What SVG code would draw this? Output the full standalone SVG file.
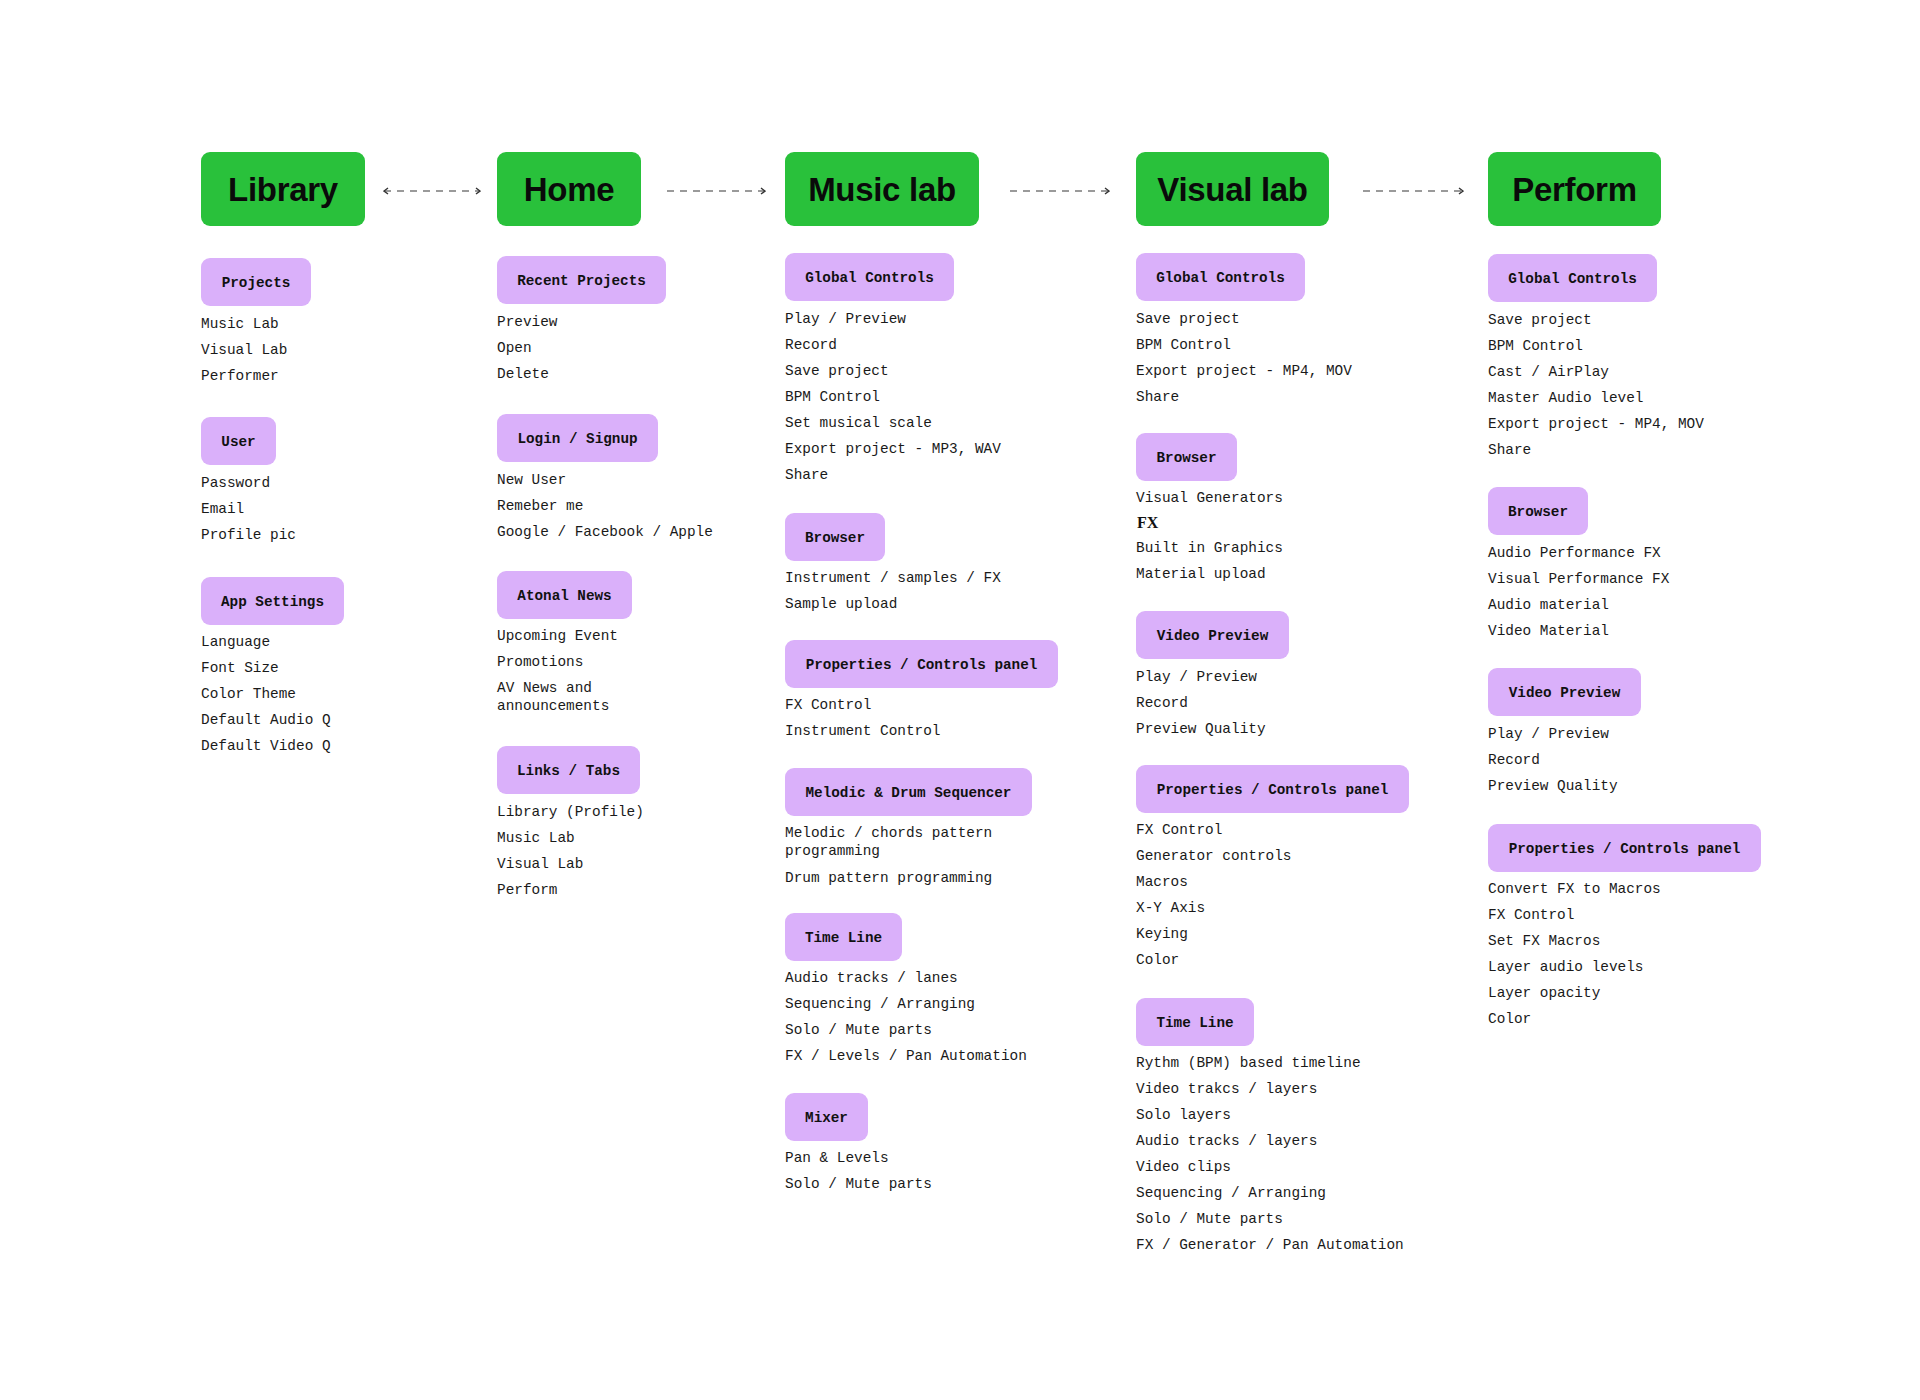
<svg xmlns="http://www.w3.org/2000/svg" width="1920" height="1400" viewBox="0 0 1920 1400">
<style>
.hdr{fill:#29c13b}
.hdrt{font-family:"Liberation Sans",Arial,sans-serif;font-weight:700;font-size:33px;fill:#0a0a0a;text-anchor:middle;letter-spacing:-0.3px}
.lbl{fill:#dab0fa}
.lblt{font-family:"Liberation Mono","DejaVu Sans Mono",monospace;font-weight:700;font-size:14.3px;fill:#111;text-anchor:middle}
.it{font-family:"Liberation Mono","DejaVu Sans Mono",monospace;font-size:14.4px;fill:#1a1a1a}
.fx{font-family:"Liberation Serif","Times New Roman",serif;font-weight:700;font-size:16px;fill:#111}
.con{stroke:#7a7a7a;stroke-width:1.6;stroke-dasharray:7 6;fill:none}
</style>
<defs>
<marker id="chev" viewBox="0 0 6 8" refX="5" refY="4" markerWidth="6" markerHeight="8" markerUnits="userSpaceOnUse" orient="auto-start-reverse">
<path d="M1,1 L5,4 L1,7" fill="none" stroke="#333" stroke-width="1.4"/>
</marker>
</defs>
<rect width="1920" height="1400" fill="#ffffff"/>

<g id="connectors">
<line class="con" x1="384" y1="191" x2="480" y2="191" marker-start="url(#chev)" marker-end="url(#chev)"/>
<line class="con" x1="667" y1="191" x2="765" y2="191" marker-end="url(#chev)"/>
<line class="con" x1="1010" y1="191" x2="1109" y2="191" marker-end="url(#chev)"/>
<line class="con" x1="1363" y1="191" x2="1463" y2="191" marker-end="url(#chev)"/>
</g>

<!-- Column 1: Library -->
<g id="library">
<rect class="hdr" x="201" y="152" width="164" height="74" rx="9"/>
<text class="hdrt" x="283" y="201">Library</text>
</g>
<g id="lib-projects">
<rect class="lbl" x="201" y="258" width="110" height="48" rx="9"/>
<text class="lblt" x="256" y="287">Projects</text>
<text class="it" x="201" y="328">Music Lab</text>
<text class="it" x="201" y="354">Visual Lab</text>
<text class="it" x="201" y="380">Performer</text>
</g>
<g id="lib-user">
<rect class="lbl" x="201" y="417" width="75" height="48" rx="9"/>
<text class="lblt" x="238.5" y="446">User</text>
<text class="it" x="201" y="487">Password</text>
<text class="it" x="201" y="513">Email</text>
<text class="it" x="201" y="539">Profile pic</text>
</g>
<g id="lib-appsettings">
<rect class="lbl" x="201" y="577" width="143" height="48" rx="9"/>
<text class="lblt" x="272.5" y="606">App Settings</text>
<text class="it" x="201" y="646">Language</text>
<text class="it" x="201" y="672">Font Size</text>
<text class="it" x="201" y="698">Color Theme</text>
<text class="it" x="201" y="724">Default Audio Q</text>
<text class="it" x="201" y="750">Default Video Q</text>
</g>

<!-- Column 2: Home -->
<g id="home">
<rect class="hdr" x="497" y="152" width="144" height="74" rx="9"/>
<text class="hdrt" x="569" y="201">Home</text>
</g>
<g id="home-recent">
<rect class="lbl" x="497" y="256" width="169" height="48" rx="9"/>
<text class="lblt" x="581.5" y="285">Recent Projects</text>
<text class="it" x="497" y="326">Preview</text>
<text class="it" x="497" y="352">Open</text>
<text class="it" x="497" y="378">Delete</text>
</g>
<g id="home-login">
<rect class="lbl" x="497" y="414" width="161" height="48" rx="9"/>
<text class="lblt" x="577.5" y="443">Login / Signup</text>
<text class="it" x="497" y="484">New User</text>
<text class="it" x="497" y="510">Remeber me</text>
<text class="it" x="497" y="536">Google / Facebook / Apple</text>
</g>
<g id="home-news">
<rect class="lbl" x="497" y="571" width="135" height="48" rx="9"/>
<text class="lblt" x="564.5" y="600">Atonal News</text>
<text class="it" x="497" y="640">Upcoming Event</text>
<text class="it" x="497" y="666">Promotions</text>
<text class="it" x="497" y="692">AV News and</text>
<text class="it" x="497" y="710">announcements</text>
</g>
<g id="home-links">
<rect class="lbl" x="497" y="746" width="143" height="48" rx="9"/>
<text class="lblt" x="568.5" y="775">Links / Tabs</text>
<text class="it" x="497" y="816">Library (Profile)</text>
<text class="it" x="497" y="842">Music Lab</text>
<text class="it" x="497" y="868">Visual Lab</text>
<text class="it" x="497" y="894">Perform</text>
</g>

<!-- Column 3: Music lab -->
<g id="musiclab">
<rect class="hdr" x="785" y="152" width="194" height="74" rx="9"/>
<text class="hdrt" x="882" y="201">Music lab</text>
</g>
<g id="ml-global">
<rect class="lbl" x="785" y="253" width="169" height="48" rx="9"/>
<text class="lblt" x="869.5" y="282">Global Controls</text>
<text class="it" x="785" y="323">Play / Preview</text>
<text class="it" x="785" y="349">Record</text>
<text class="it" x="785" y="375">Save project</text>
<text class="it" x="785" y="401">BPM Control</text>
<text class="it" x="785" y="427">Set musical scale</text>
<text class="it" x="785" y="453">Export project - MP3, WAV</text>
<text class="it" x="785" y="479">Share</text>
</g>
<g id="ml-browser">
<rect class="lbl" x="785" y="513" width="100" height="48" rx="9"/>
<text class="lblt" x="835" y="542">Browser</text>
<text class="it" x="785" y="582">Instrument / samples / FX</text>
<text class="it" x="785" y="608">Sample upload</text>
</g>
<g id="ml-properties">
<rect class="lbl" x="785" y="640" width="273" height="48" rx="9"/>
<text class="lblt" x="921.5" y="669">Properties / Controls panel</text>
<text class="it" x="785" y="709">FX Control</text>
<text class="it" x="785" y="735">Instrument Control</text>
</g>
<g id="ml-sequencer">
<rect class="lbl" x="785" y="768" width="247" height="48" rx="9"/>
<text class="lblt" x="908.5" y="797">Melodic &amp; Drum Sequencer</text>
<text class="it" x="785" y="837">Melodic / chords pattern</text>
<text class="it" x="785" y="855">programming</text>
<text class="it" x="785" y="882">Drum pattern programming</text>
</g>
<g id="ml-timeline">
<rect class="lbl" x="785" y="913" width="117" height="48" rx="9"/>
<text class="lblt" x="843.5" y="942">Time Line</text>
<text class="it" x="785" y="982">Audio tracks / lanes</text>
<text class="it" x="785" y="1008">Sequencing / Arranging</text>
<text class="it" x="785" y="1034">Solo / Mute parts</text>
<text class="it" x="785" y="1060">FX / Levels / Pan Automation</text>
</g>
<g id="ml-mixer">
<rect class="lbl" x="785" y="1093" width="83" height="48" rx="9"/>
<text class="lblt" x="826.5" y="1122">Mixer</text>
<text class="it" x="785" y="1162">Pan &amp; Levels</text>
<text class="it" x="785" y="1188">Solo / Mute parts</text>
</g>

<!-- Column 4: Visual lab -->
<g id="visuallab">
<rect class="hdr" x="1136" y="152" width="193" height="74" rx="9"/>
<text class="hdrt" x="1232.5" y="201">Visual lab</text>
</g>
<g id="vl-global">
<rect class="lbl" x="1136" y="253" width="169" height="48" rx="9"/>
<text class="lblt" x="1220.5" y="282">Global Controls</text>
<text class="it" x="1136" y="323">Save project</text>
<text class="it" x="1136" y="349">BPM Control</text>
<text class="it" x="1136" y="375">Export project - MP4, MOV</text>
<text class="it" x="1136" y="401">Share</text>
</g>
<g id="vl-browser">
<rect class="lbl" x="1136" y="433" width="101" height="48" rx="9"/>
<text class="lblt" x="1186.5" y="462">Browser</text>
<text class="it" x="1136" y="502">Visual Generators</text>
<text class="fx" x="1137" y="528">FX</text>
<text class="it" x="1136" y="552">Built in Graphics</text>
<text class="it" x="1136" y="578">Material upload</text>
</g>
<g id="vl-preview">
<rect class="lbl" x="1136" y="611" width="153" height="48" rx="9"/>
<text class="lblt" x="1212.5" y="640">Video Preview</text>
<text class="it" x="1136" y="681">Play / Preview</text>
<text class="it" x="1136" y="707">Record</text>
<text class="it" x="1136" y="733">Preview Quality</text>
</g>
<g id="vl-properties">
<rect class="lbl" x="1136" y="765" width="273" height="48" rx="9"/>
<text class="lblt" x="1272.5" y="794">Properties / Controls panel</text>
<text class="it" x="1136" y="834">FX Control</text>
<text class="it" x="1136" y="860">Generator controls</text>
<text class="it" x="1136" y="886">Macros</text>
<text class="it" x="1136" y="912">X-Y Axis</text>
<text class="it" x="1136" y="938">Keying</text>
<text class="it" x="1136" y="964">Color</text>
</g>
<g id="vl-timeline">
<rect class="lbl" x="1136" y="998" width="118" height="48" rx="9"/>
<text class="lblt" x="1195" y="1027">Time Line</text>
<text class="it" x="1136" y="1067">Rythm (BPM) based timeline</text>
<text class="it" x="1136" y="1093">Video trakcs / layers</text>
<text class="it" x="1136" y="1119">Solo layers</text>
<text class="it" x="1136" y="1145">Audio tracks / layers</text>
<text class="it" x="1136" y="1171">Video clips</text>
<text class="it" x="1136" y="1197">Sequencing / Arranging</text>
<text class="it" x="1136" y="1223">Solo / Mute parts</text>
<text class="it" x="1136" y="1249">FX / Generator / Pan Automation</text>
</g>

<!-- Column 5: Perform -->
<g id="perform">
<rect class="hdr" x="1488" y="152" width="173" height="74" rx="9"/>
<text class="hdrt" x="1574.5" y="201">Perform</text>
</g>
<g id="pf-global">
<rect class="lbl" x="1488" y="254" width="169" height="48" rx="9"/>
<text class="lblt" x="1572.5" y="283">Global Controls</text>
<text class="it" x="1488" y="324">Save project</text>
<text class="it" x="1488" y="350">BPM Control</text>
<text class="it" x="1488" y="376">Cast / AirPlay</text>
<text class="it" x="1488" y="402">Master Audio level</text>
<text class="it" x="1488" y="428">Export project - MP4, MOV</text>
<text class="it" x="1488" y="454">Share</text>
</g>
<g id="pf-browser">
<rect class="lbl" x="1488" y="487" width="100" height="48" rx="9"/>
<text class="lblt" x="1538" y="516">Browser</text>
<text class="it" x="1488" y="557">Audio Performance FX</text>
<text class="it" x="1488" y="583">Visual Performance FX</text>
<text class="it" x="1488" y="609">Audio material</text>
<text class="it" x="1488" y="635">Video Material</text>
</g>
<g id="pf-preview">
<rect class="lbl" x="1488" y="668" width="153" height="48" rx="9"/>
<text class="lblt" x="1564.5" y="697">Video Preview</text>
<text class="it" x="1488" y="738">Play / Preview</text>
<text class="it" x="1488" y="764">Record</text>
<text class="it" x="1488" y="790">Preview Quality</text>
</g>
<g id="pf-properties">
<rect class="lbl" x="1488" y="824" width="273" height="48" rx="9"/>
<text class="lblt" x="1624.5" y="853">Properties / Controls panel</text>
<text class="it" x="1488" y="893">Convert FX to Macros</text>
<text class="it" x="1488" y="919">FX Control</text>
<text class="it" x="1488" y="945">Set FX Macros</text>
<text class="it" x="1488" y="971">Layer audio levels</text>
<text class="it" x="1488" y="997">Layer opacity</text>
<text class="it" x="1488" y="1023">Color</text>
</g>
</svg>
